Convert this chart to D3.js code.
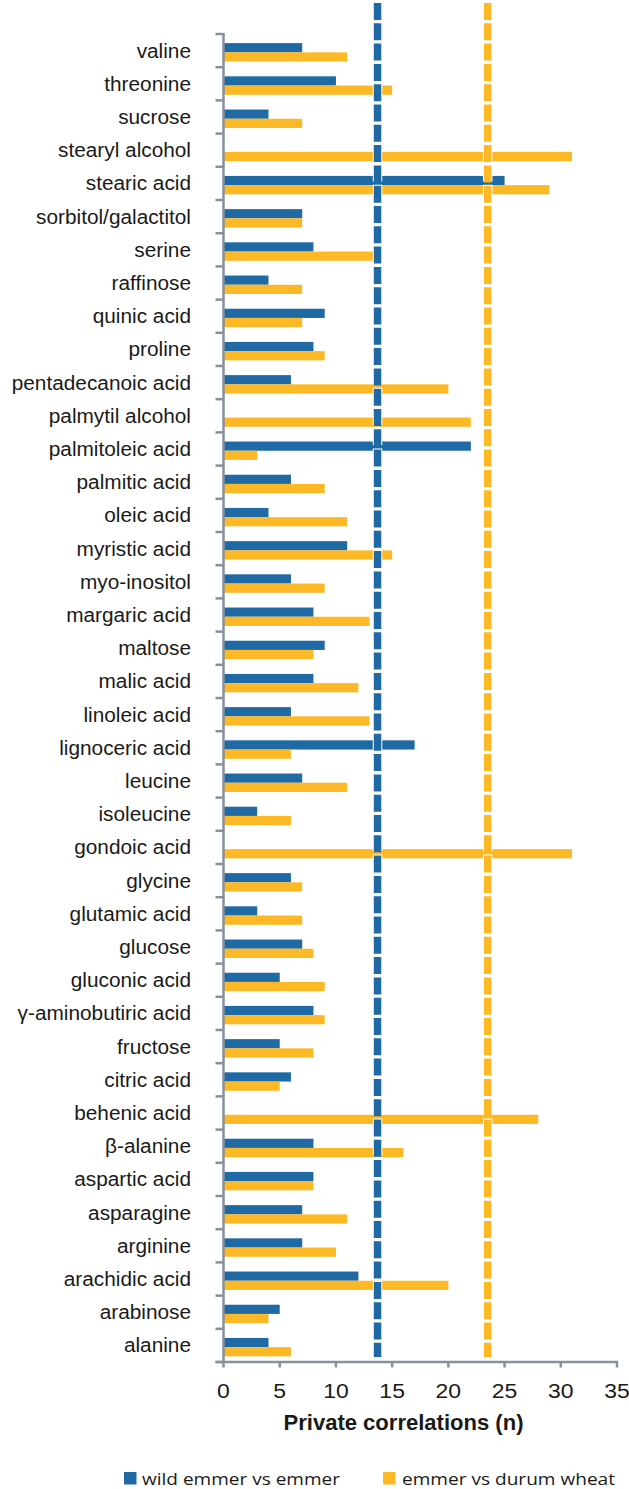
<!DOCTYPE html>
<html>
<head>
<meta charset="utf-8">
<script src="https://cdn.jsdelivr.net/npm/d3@7"></script>
<style>
  html, body { margin: 0; padding: 0; background: #ffffff; }
  svg { display: block; }
</style>
</head>
<body>
<svg id="chart" width="629" height="1489"></svg>
<script>
// ---- data ----
const categories = [
  "valine", "threonine", "sucrose", "stearyl alcohol", "stearic acid",
  "sorbitol/galactitol", "serine", "raffinose", "quinic acid", "proline",
  "pentadecanoic acid", "palmytil alcohol", "palmitoleic acid", "palmitic acid", "oleic acid",
  "myristic acid", "myo-inositol", "margaric acid", "maltose", "malic acid",
  "linoleic acid", "lignoceric acid", "leucine", "isoleucine", "gondoic acid",
  "glycine", "glutamic acid", "glucose", "gluconic acid", "γ-aminobutiric acid",
  "fructose", "citric acid", "behenic acid", "β-alanine", "aspartic acid",
  "asparagine", "arginine", "arachidic acid", "arabinose", "alanine"
];
const wildEmmerVsEmmer = [
  7, 10, 4, 0, 25,
  7, 8, 4, 9, 8,
  6, 0, 22, 6, 4,
  11, 6, 8, 9, 8,
  6, 17, 7, 3, 0,
  6, 3, 7, 5, 8,
  5, 6, 0, 8, 8,
  7, 7, 12, 5, 4
];
const emmerVsDurum = [
  11, 15, 7, 31, 29,
  7, 14, 7, 7, 9,
  20, 22, 3, 9, 11,
  15, 9, 13, 8, 12,
  13, 6, 11, 6, 31,
  7, 7, 8, 9, 9,
  8, 5, 28, 16, 8,
  11, 10, 20, 4, 6
];
const seriesNames = ["wild emmer vs emmer", "emmer vs durum wheat"];
const thresholds = [13.7, 23.5];
const xTicks = [0, 5, 10, 15, 20, 25, 30, 35];
const xTitle = "Private correlations (n)";

// ---- styles ----
const colors = ["#1f6aa5", "#fdb825"];
const axisColor = "#86919c";

const svg = d3.select("#chart");

const x = d3.scaleLinear().domain([0, 35]).range([223.5, 617]);
const y = d3.scaleBand().domain(categories).range([34, 1362]).paddingInner(0).paddingOuter(0);
const bw = y.bandwidth();
const ySub = d3.scaleBand().domain([0, 1]).range([bw * 0.275, bw * 0.83]);

// helper to horizontally stretch text glyphs
function stretch(sel, k) {
  sel.each(function () {
    const len = this.getComputedTextLength();
    d3.select(this).attr("textLength", len * k).attr("lengthAdjust", "spacingAndGlyphs");
  });
}

// bars
const rows = categories.map((c, i) => ({ c, vals: [wildEmmerVsEmmer[i], emmerVsDurum[i]] }));
const g = svg.append("g");
const rowG = g.selectAll("g.row").data(rows).join("g")
  .attr("class", "row")
  .attr("transform", d => `translate(0,${y(d.c)})`);
rowG.selectAll("rect").data(d => d.vals.map((v, k) => ({ v, k }))).join("rect")
  .attr("x", x(0))
  .attr("y", d => ySub(d.k))
  .attr("height", ySub.bandwidth())
  .attr("width", d => x(d.v) - x(0))
  .attr("fill", d => colors[d.k]);

// y axis
const yAxisG = svg.append("g");
yAxisG.append("line")
  .attr("x1", x(0)).attr("x2", x(0)).attr("y1", 33).attr("y2", 1363)
  .attr("stroke", axisColor).attr("stroke-width", 2.5);
const yTickPos = categories.map(c => y(c)).concat([y.range()[1]]);
yAxisG.selectAll("line.yt").data(yTickPos).join("line")
  .attr("class", "yt")
  .attr("x1", 215.5).attr("x2", x(0)).attr("y1", d => d).attr("y2", d => d)
  .attr("stroke", axisColor).attr("stroke-width", 2.5);
const yLabels = yAxisG.selectAll("text.yl").data(categories).join("text")
  .attr("class", "yl")
  .attr("x", 191).attr("y", d => y(d) + bw / 2 + 7)
  .attr("text-anchor", "end")
  .attr("font-family", "Liberation Sans, Arial, sans-serif")
  .attr("font-size", 20)
  .attr("fill", "#1a1a1a")
  .text(d => d);
stretch(yLabels, 1.04);

// x axis
const xAxisG = svg.append("g");
xAxisG.append("line")
  .attr("x1", 215.5).attr("x2", x(35) + 1).attr("y1", 1362).attr("y2", 1362)
  .attr("stroke", axisColor).attr("stroke-width", 2.5);
xAxisG.selectAll("line.xt").data(xTicks).join("line")
  .attr("class", "xt")
  .attr("x1", d => x(d)).attr("x2", d => x(d)).attr("y1", 1362).attr("y2", 1367.5)
  .attr("stroke", axisColor).attr("stroke-width", 2.5);
const xLabels = xAxisG.selectAll("text.xl").data(xTicks).join("text")
  .attr("class", "xl")
  .attr("x", d => x(d)).attr("y", 1397.5)
  .attr("text-anchor", "middle")
  .attr("font-family", "Liberation Sans, Arial, sans-serif")
  .attr("font-size", 20.5)
  .attr("fill", "#1a1a1a")
  .text(d => d3.format("d")(d));
stretch(xLabels, 1.12);

svg.append("text")
  .attr("x", 403.5).attr("y", 1429.5)
  .attr("text-anchor", "middle")
  .attr("font-family", "Liberation Sans, Arial, sans-serif")
  .attr("font-weight", "bold")
  .attr("font-size", 22)
  .attr("fill", "#1a1a1a")
  .attr("textLength", 240).attr("lengthAdjust", "spacingAndGlyphs")
  .text(xTitle);

// threshold dashed lines
const thG = svg.append("g");
thG.selectAll("line.thw").data(thresholds).join("line")
  .attr("class", "thw")
  .attr("x1", d => x(d)).attr("x2", d => x(d)).attr("y1", 2).attr("y2", 1358)
  .attr("stroke", "#ffffff").attr("stroke-width", 9.5)
  .attr("stroke-dasharray", "17,3.3");
thG.selectAll("line.th").data(thresholds).join("line")
  .attr("class", "th")
  .attr("x1", d => x(d)).attr("x2", d => x(d)).attr("y1", 3).attr("y2", 1357)
  .attr("stroke", (d, i) => colors[i]).attr("stroke-width", 7.5)
  .attr("stroke-dasharray", "17,3.3");

// legend
const legendPos = [{ sx: 124, tx: 142, w: 198 }, { sx: 383, tx: 402, w: 213 }];
const lg = svg.append("g");
seriesNames.forEach((name, i) => {
  lg.append("rect")
    .attr("x", legendPos[i].sx).attr("y", 1472)
    .attr("width", 12.5).attr("height", 12.5)
    .attr("fill", colors[i]);
  lg.append("text")
    .attr("x", legendPos[i].tx).attr("y", 1484.5)
    .attr("font-family", "Open Sans, sans-serif")
    .attr("font-size", 17)
    .attr("fill", "#1a1a1a")
    .attr("textLength", legendPos[i].w).attr("lengthAdjust", "spacingAndGlyphs")
    .text(name);
});
</script>
</body>
</html>
